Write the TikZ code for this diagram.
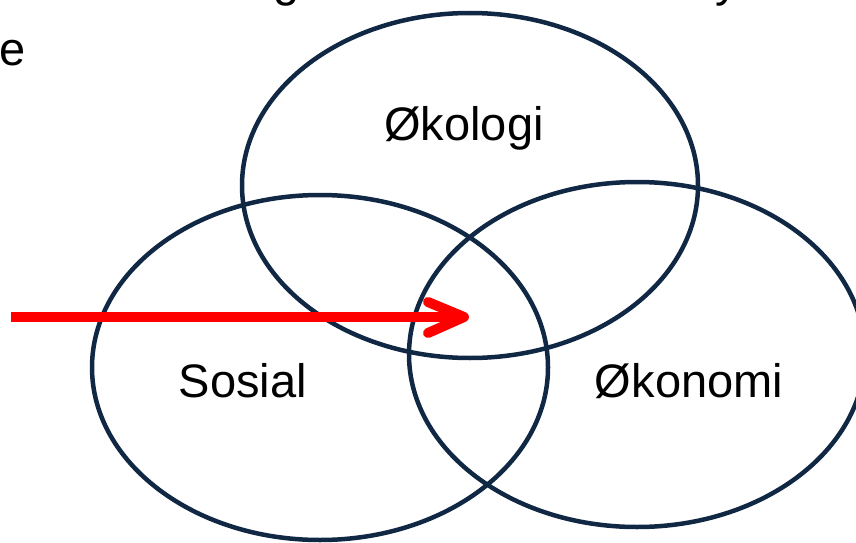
\documentclass[tikz,border=0pt]{standalone}
\usepackage{fontspec}
\setmainfont{Liberation Sans}
\usetikzlibrary{shapes.geometric}
\definecolor{navy}{RGB}{16,40,68}
\definecolor{arrowred}{RGB}{255,0,0}
\begin{document}
\begin{tikzpicture}[x=1pt,y=-1pt,
  ring/.style={ellipse, draw=navy, line width=4.5pt, minimum width=456pt, minimum height=345pt, inner sep=0pt},
  lbl/.style={anchor=base, font=\fontsize{47}{56}\selectfont, inner sep=0pt},
  redline/.style={draw=arrowred, line width=10pt}]
\clip (0,0) rectangle (856,543);
% clipped text fragments at the edges, as in the reference
\node[lbl] (fragg) at (287,-3) {g};
\node[lbl] (fragy) at (727,-3) {y};
\node[lbl, anchor=base west] (frage) at (-1,66) {e};
% circles
\node[ring] (okologi) at (470,185.5) {};
\node[ring] (sosial) at (320,367.5) {};
\node[ring] (okonomi) at (637,354.5) {};
% labels
\node[lbl] (tokologi) at (464,140) {Økologi};
\node[lbl] (tsosial) at (243,397) {Sosial};
\node[lbl] (tokonomi) at (689,397) {Økonomi};
% arrow
\coordinate (start) at (11,317);
\coordinate (shaftend) at (455,317);
\coordinate (tip) at (464,317);
\coordinate (w1) at (428,302);
\coordinate (w2) at (428,333);
\draw[redline] (start) -- (shaftend);
\draw[redline, line cap=round, line join=round] (w1) -- (tip) -- (w2);
\end{tikzpicture}
\end{document}
